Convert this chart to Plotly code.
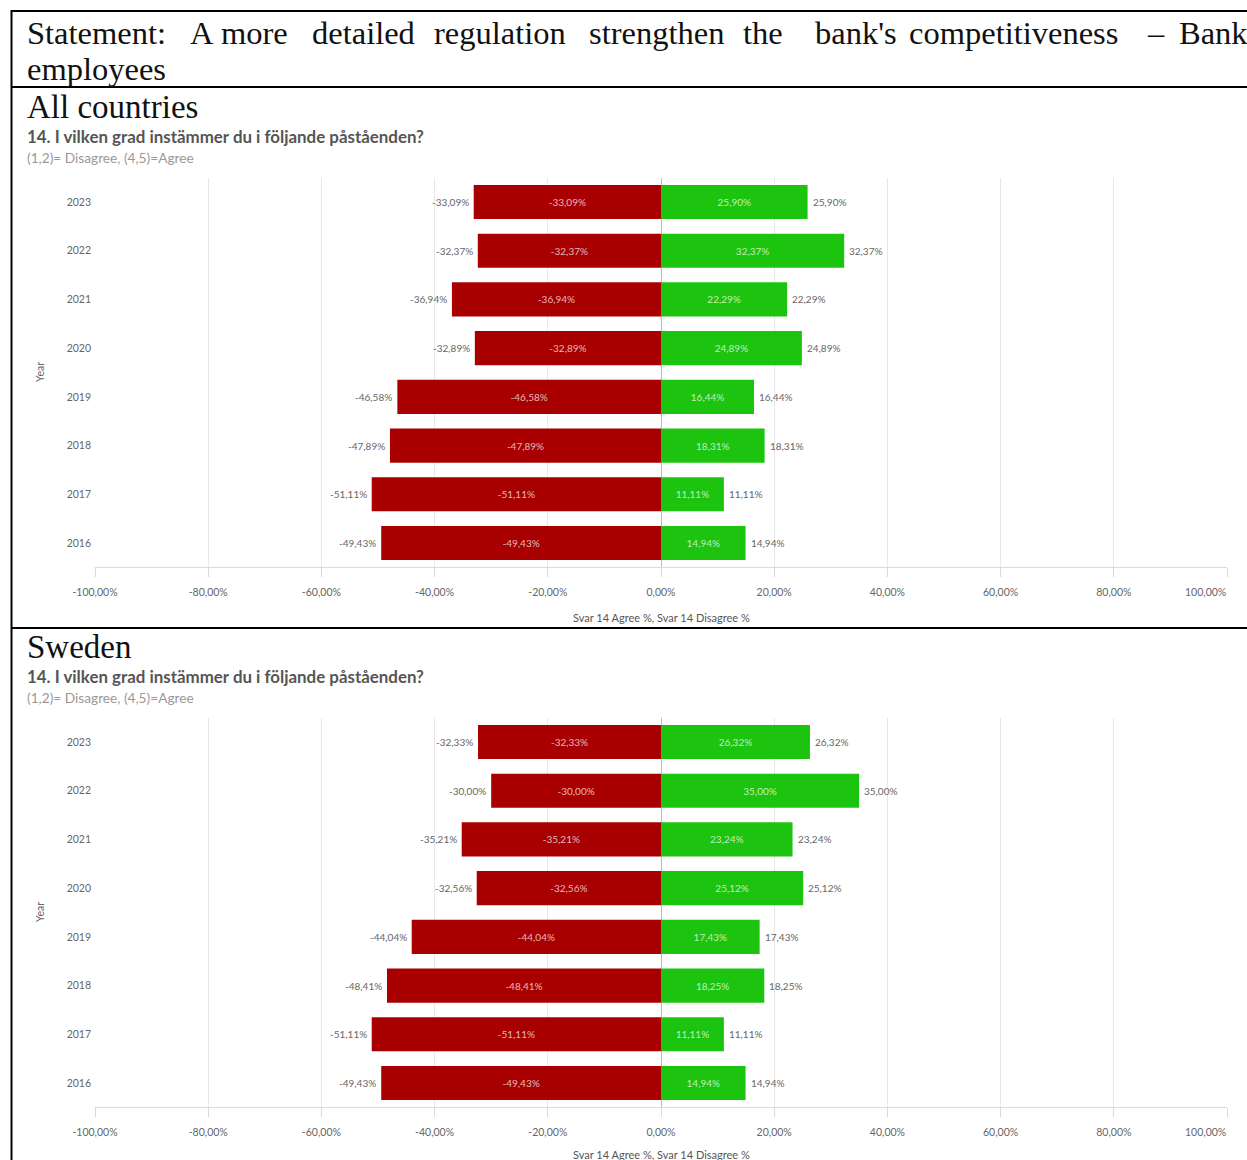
import plotly.graph_objects as go

# ---------------- data ----------------
years = ["2016", "2017", "2018", "2019", "2020", "2021", "2022", "2023"]

all_disagree = [-49.43, -51.11, -47.89, -46.58, -32.89, -36.94, -32.37, -33.09]
all_agree = [14.94, 11.11, 18.31, 16.44, 24.89, 22.29, 32.37, 25.90]

se_disagree = [-49.43, -51.11, -48.41, -44.04, -32.56, -35.21, -30.00, -32.33]
se_agree = [14.94, 11.11, 18.25, 17.43, 25.12, 23.24, 35.00, 26.32]

x_tick_values = [-100, -80, -60, -40, -20, 0, 20, 40, 60, 80, 100]

title_words = ["Statement:", "A", "more", "detailed", "regulation", "strengthen",
               "the", "bank's", "competitiveness", "\u2013", "Bank"]
title_line2 = "employees"
section_names = ["All countries", "Sweden"]
question = "14. I vilken grad instämmer du i följande påståenden?"
legend_note = "(1,2)= Disagree, (4,5)=Agree"
x_title = "Svar 14 Agree %, Svar 14 Disagree %"
y_title = "Year"


def pct(v):
    return f"{v:.2f}%".replace(".", ",")


# ---------------- layout helpers ----------------
W, H = 1247, 1160


def X(px):
    return px / W


def Y(py):
    return 1 - py / H


SERIF = "Liberation Serif"
SANS = "Lato"
RED = "#A80000"
GREEN = "#1DC40F"

fig = go.Figure()

sections = [
    dict(name=section_names[0], dis=all_disagree, agr=all_agree, off=0),
    dict(name=section_names[1], dis=se_disagree, agr=se_agree, off=540),
]

annotations = []
shapes = []
tick_text = [pct(v) for v in x_tick_values[:-1]] + [""]
label_font = dict(family=SANS, size=10, color="#666666")

for i, s in enumerate(sections):
    n = "" if i == 0 else str(i + 1)
    xa, ya = "x" + n, "y" + n
    off = s["off"]
    dis = s["dis"]
    agr = s["agr"]

    for vals, col in [(dis, RED), (agr, GREEN)]:
        fig.add_trace(go.Bar(
            x=vals, y=years, orientation="h", xaxis=xa, yaxis=ya,
            marker=dict(color=col, line=dict(width=0)),
            text=[pct(v) for v in vals], textposition="inside", insidetextanchor="middle",
            textfont=dict(family=SANS, size=10, color="rgba(255,255,255,0.72)"),
            hoverinfo="skip", showlegend=False,
        ))

    # outside value labels next to the bar ends (y given as category index)
    for j, v in enumerate(dis):
        annotations.append(dict(text=pct(v), x=v, y=j, xref=xa, yref=ya,
                                xanchor="right", yanchor="middle", xshift=-3,
                                showarrow=False, font=label_font))
    for j, v in enumerate(agr):
        annotations.append(dict(text=pct(v), x=v, y=j, xref=xa, yref=ya,
                                xanchor="left", yanchor="middle", xshift=3,
                                showarrow=False, font=label_font))

    top = 177.6 + off
    bottom = 567.4 + off
    fig.layout["xaxis" + n] = dict(
        domain=[X(95), X(1227)], range=[-100, 100], anchor=ya,
        tickvals=x_tick_values, ticktext=tick_text,
        tickfont=dict(family=SANS, size=10.5, color="#666666"),
        showgrid=True, gridcolor="#E8E8E8", gridwidth=1,
        showline=True, linecolor="#DADADA", linewidth=1,
        ticks="outside", ticklen=9, tickcolor="#DADADA",
        ticklabelstandoff=6, automargin=False,
        zeroline=True, zerolinecolor="#BBBBBB", zerolinewidth=1,
        fixedrange=True,
    )
    fig.layout["yaxis" + n] = dict(
        domain=[Y(bottom), Y(top)], anchor=xa, type="category",
        categoryorder="array", categoryarray=years,
        range=[-0.5, len(years) - 0.5], autorange=False,
        tickfont=dict(family=SANS, size=10.5, color="#666666"),
        showgrid=False, showline=False, ticks="", zeroline=False,
        ticklabelstandoff=3, automargin=False, fixedrange=True,
    )

    # last x tick label, kept inside the page like the reference
    annotations.append(dict(text=pct(x_tick_values[-1]), x=x_tick_values[-1], y=Y(592 + off),
                            xref=xa, yref="paper", xanchor="right", yanchor="middle",
                            showarrow=False, xshift=1,
                            font=dict(family=SANS, size=10.5, color="#666666")))

    # section heading and captions
    annotations.append(dict(text=s["name"], x=X(25), y=Y(107 + off), xref="paper", yref="paper",
                            xanchor="left", yanchor="middle", showarrow=False,
                            font=dict(family=SERIF, size=33, color="#111111")))
    annotations.append(dict(text="<b>" + question + "</b>", x=X(25), y=Y(136 + off),
                            xref="paper", yref="paper", xanchor="left", yanchor="middle",
                            showarrow=False, font=dict(family=SANS, size=16.9, color="#555555")))
    annotations.append(dict(text=legend_note, x=X(25), y=Y(157 + off), xref="paper", yref="paper",
                            xanchor="left", yanchor="middle", showarrow=False,
                            font=dict(family=SANS, size=13.7, color="#999999")))
    annotations.append(dict(text=y_title, x=X(40), y=Y(372 + off), xref="paper", yref="paper",
                            xanchor="center", yanchor="middle", showarrow=False, textangle=-90,
                            font=dict(family=SANS, size=10.5, color="#666666")))
    annotations.append(dict(text=x_title, x=X(661), y=Y(min(617 + off, 1154)), xref="paper",
                            yref="paper", xanchor="center", yanchor="middle", showarrow=False,
                            font=dict(family=SANS, size=11, color="#555555")))

# statement title, justified word by word
word_x = [25, 188, 219, 310, 432, 587, 741, 813, 907, 1145, 1177]
for w, px in zip(title_words, word_x):
    annotations.append(dict(text=w, x=X(px), y=Y(33), xref="paper", yref="paper",
                            xanchor="left", yanchor="middle", showarrow=False,
                            font=dict(family=SERIF, size=32.5, color="#111111")))
annotations.append(dict(text=title_line2, x=X(25), y=Y(69), xref="paper", yref="paper",
                        xanchor="left", yanchor="middle", showarrow=False,
                        font=dict(family=SERIF, size=32.5, color="#111111")))

# table borders
for yy in [11, 87, 628]:
    shapes.append(dict(type="line", xref="paper", yref="paper", x0=X(11), x1=1.01,
                       y0=Y(yy), y1=Y(yy), line=dict(color="black", width=2)))
shapes.append(dict(type="line", xref="paper", yref="paper", x0=X(11.5), x1=X(11.5),
                   y0=Y(10), y1=-0.01, line=dict(color="black", width=2)))

fig.update_layout(
    width=W, height=H, margin=dict(l=0, r=0, t=0, b=0, autoexpand=False),
    paper_bgcolor="white", plot_bgcolor="white",
    barmode="relative", bargap=0.3,
    annotations=annotations, shapes=shapes,
    showlegend=False,
    font=dict(family=SANS),
)

fig.write_html("out.html", config={"displayModeBar": False})
